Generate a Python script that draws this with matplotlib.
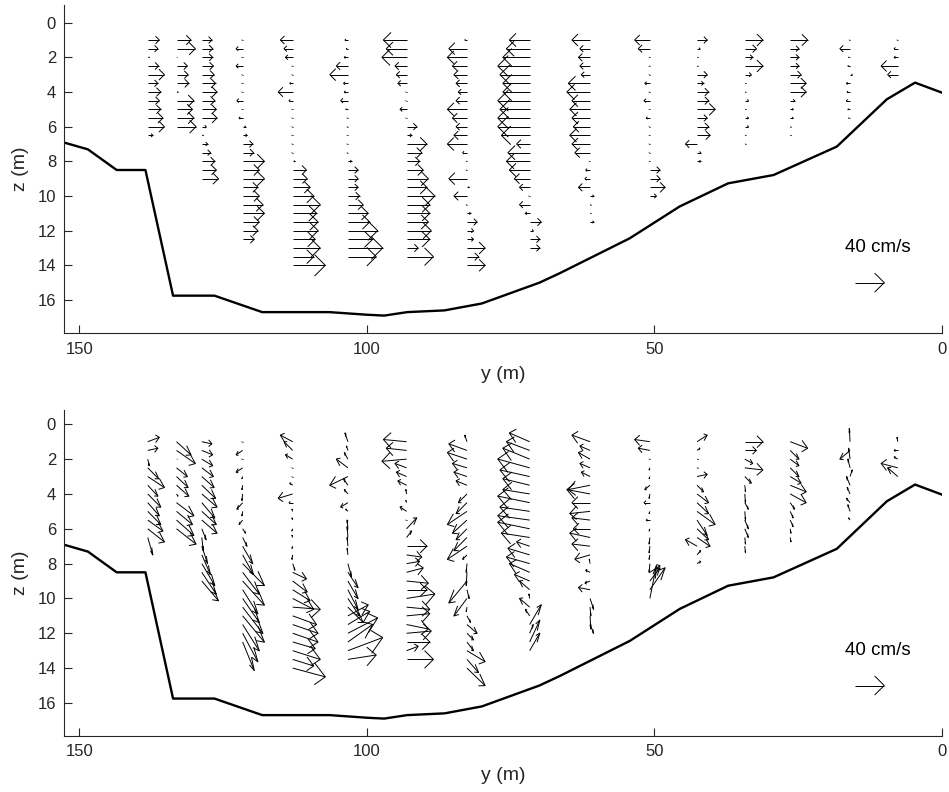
import numpy as np
import matplotlib.pyplot as plt
from matplotlib.collections import LineCollection

plt.rcParams['font.family'] = ['Liberation Sans', 'DejaVu Sans']

# channel bed (cross-section)
bed_y = [152.6, 148.5, 143.5, 138.5, 133.7, 126.5, 118.2, 112.6, 106.5, 100.0,
         97.0, 93.0, 86.5, 80.0, 75.0, 70.0, 66.5, 60.7, 54.3, 45.6, 37.2,
         29.3, 18.3, 9.6, 4.7, 0.0]
bed_z = [6.92, 7.31, 8.5, 8.5, 15.75, 15.75, 16.7, 16.7, 16.7, 16.85,
         16.9, 16.7, 16.6, 16.2, 15.6, 15.0, 14.46, 13.5, 12.44, 10.6, 9.27,
         8.79, 7.15, 4.42, 3.46, 4.04]

# ADCP stations across the channel (m), bins start at 1 m, 0.5 m apart
station_y = [138.1, 133.1, 128.7, 121.6, 112.9, 103.3, 93.1, 82.6,
             71.7, 61.2, 50.8, 42.6, 34.3, 26.4, 16.0, 7.7]
first_bin = 1.0
bin_size = 0.5

# horizontal velocity (cm/s, positive towards y = 0), top to bottom
v01 = [16, 14, 2, 15, 23, 14, 18, 16, 18, 21, 23, 7]
v02 = [20, 26, 1, 15, 16, 17, 2, 24, 22, 24, 27]
v03 = [14, 15, 15, 16, 17, 19, 21, 18, 20, 21, 6, 2, 8, 12, 18, 20, 23]
v04 = [-1, -9, -1, -9, -1, -1, -1, -8, -1, -5, 4, 6, 14, 15, 30, 23, 30,
       21, 23, 28, 30, 23, 21, 16]
v05 = [-17, -12, -10, -1, -1, -4, -20, -5, -1, -1, -1, -1, -1, -1, 3, 19,
       20, 24, 29, 38, 33, 35, 35, 31, 38, 29, 45]
v06 = [-4, -2, -5, -16, -25, -6, -5, -10, -3, -1, -1, -1, -1, -1, 5, 14,
       14, 14, 16, 21, 28, 30, 41, 34, 48, 39]
v07 = [-32, -28, -34, -16, -14, -12, -1, -1, -9, -1, 14, 7, 28, 21, 18,
       23, 30, 28, 39, 32, 32, 30, 34, 32, 16, 37]
v08 = [-3, -25, -27, -20, -18, -15, -12, -15, -27, -20, -15, -18, -27, -6,
       -1, -1, -25, 3, -18, -1, 5, 14, 9, 9, 25, 16, 25]
v09 = [-28, -32, -37, -44, -41, -37, -37, -44, -41, -44, -44, -39, -18,
       -30, -32, -28, -21, -14, -1, -14, -6, 16, 5, 14, 14]
v10 = [-25, -14, -16, -14, -12, -30, -32, -25, -28, -25, -23, -28, -25,
       -21, -1, -6, -7, -16, 5, 1, 1, 5]
v11 = [-21, -16, -1, -1, -1, -7, -1, -8, -1, -5, -1, -1, -1, -1, -1, 14,
       14, 21, 9]
v12 = [14, 4, 1, 1, 14, 9, 16, 16, 25, 14, 16, 18, -16, 5, 5]
v13 = [25, 16, 11, 25, 9, 1, 1, 5, 1, 5, 5, 1, 1]
v14 = [24, 12, 12, 12, 15, 22, 22, 6, 4, 4, 1, 1]
v15 = [-1, -14, -2, -3, 3, -5, -4, -5, -3, -2]
v16 = [-1, -5, -5, -23, -14]

# vertical velocity (cm/s, positive upward), same bins
w01 = [2, 1, -3, -5, -5, -5, -6, -6, -6, -5, -6, -8]
w02 = [-6, -6, 0, -4, -5, -5, -1, -6, -6, -7, -7]
w03 = [-1, -2, -3, -4, -5, -6, -6, -7, -6, -6, -5, -6, -8, -9, -10, -10,
       -9]
w04 = [0, -2, 0, -2, -1, -2, -3, -3, -2, -2, -2, -4, -8, -9, -10, -10,
       -11, -11, -11, -12, -12, -12, -13, -13]
w05 = [3, 4, 2, 0, 0, 1, -2, 0, 1, 1, -1, 1, -1, -2, -3, -3, -5, -5, -5,
       -1, -4, -4, -4, -3, -4, -3, -4]
w06 = [4, 2, 3, 4, -4, 3, 2, -2, 1, -1, 4, 5, 4, 3, -6, -7, -8, -9, -8,
       -7, 5, 6, 7, 8, 6, 2]
w07 = [1, 1, -1, 2, 2, 2, 2, 1, 2, 0, 5, 3, 0, -1, 1, 2, -1, 0, 2, -1, 1,
       -2, 1, 0, 2, 0]
w08 = [3, 3, 3, 2, 2, 2, -4, -5, -6, -6, -5, -6, -6, -2, -4, -6, -10, -4,
       -8, -2, -3, -4, -3, -4, -5, -6, -8]
w09 = [4, 4, 5, 4, 3, 3, 2, 3, 2, 2, 3, 2, 2, 3, 3, 4, 3, 4, 2, 4, 3, 9,
       4, 10, 8]
w10 = [3, 2, 3, 2, 2, -2, 2, 0, -1, 1, 0, 2, 1, -2, 2, 1, -1, 1, -5, -4,
       -6, -4]
w11 = [1, 1, 0, -1, -1, -2, -2, 0, -1, 0, -1, -3, -3, -2, -4, 3, 6, 10,
       15]
w12 = [3, 1, 0, 0, 1, -3, -4, -5, -6, -7, -5, -4, 3, 2, 1]
w13 = [0, 0, -2, -1, -3, -3, -4, -3, -4, -4, -4, -3, -3]
w14 = [-3, -4, -3, -4, -3, -3, -4, -3, -3, -3, -2, -2]
w15 = [6, -4, 5, 4, 3, 4, 3, 2, 3, 1]
w16 = [2, 0, 1, 2, 4]

v_all = [v01, v02, v03, v04, v05, v06, v07, v08,
         v09, v10, v11, v12, v13, v14, v15, v16]
w_all = [w01, w02, w03, w04, w05, w06, w07, w08,
         w09, w10, w11, w12, w13, w14, w15, w16]

ref_speed = 40          # cm/s
ref_y, ref_z = 15.1, 15.0
quiver_scale = 5.04 / ref_speed   # plot metres per cm/s

ink = '#262626'


def arrow_segments(x, z, dx, dz, alpha=0.33, beta=0.33):
    """Shaft and open head of one arrow, drawn the way MATLAB's quiver does."""
    tx, tz = x + dx, z + dz
    h1 = (tx - alpha * (dx + beta * dz), tz - alpha * (dz - beta * dx))
    h2 = (tx - alpha * (dx - beta * dz), tz - alpha * (dz + beta * dx))
    return [[(x, z), (tx, tz)], [h1, (tx, tz), h2]]


def draw_panel(ax, use_w, ylim):
    segs = []
    for y0, v, w in zip(station_y, v_all, w_all):
        z = first_bin + bin_size * np.arange(len(v))
        ww = np.array(w) if use_w else np.zeros(len(v))
        for zi, vi, wi in zip(z, v, ww):
            segs += arrow_segments(y0, zi, -quiver_scale * vi, -quiver_scale * wi)
    ax.add_collection(LineCollection(segs, colors='k', linewidths=0.7))

    ax.plot(bed_y, bed_z, color='k', linewidth=1.7)

    ax.add_collection(LineCollection(
        arrow_segments(ref_y, ref_z, -quiver_scale * ref_speed, 0),
        colors='k', linewidths=0.7))
    ax.text(ref_y - 4.0, ref_z - 2.0, f'{ref_speed} cm/s', ha='center',
            va='center', fontsize=13.5, color='k')

    ax.set_xlim(152.6, 0)
    ax.set_ylim(*ylim)
    ax.set_xticks([150, 100, 50, 0])
    ax.set_yticks(np.arange(0, 17, 2))
    ax.tick_params(direction='in', length=5.5, width=0.8, colors=ink,
                   labelsize=12, pad=6)
    for side in ['top', 'right']:
        ax.spines[side].set_visible(False)
    for side in ['left', 'bottom']:
        ax.spines[side].set_color(ink)
        ax.spines[side].set_linewidth(0.8)

    ax.set_xlabel('y (m)', fontsize=14, color=ink, va='center')
    ax.set_ylabel('z (m)', fontsize=14, color=ink, va='center')


def main():
    fig = plt.figure(figsize=(9.49, 7.92), dpi=100)
    ax_top = fig.add_axes([0.0678, 0.5792, 0.9249, 0.4145])
    ax_bot = fig.add_axes([0.0678, 0.0707, 0.9249, 0.4116])

    draw_panel(ax_top, False, (17.92, -1.02))
    draw_panel(ax_bot, True, (17.9, -0.82))

    ax_top.xaxis.set_label_coords(0.5, -0.127)
    ax_top.yaxis.set_label_coords(-0.0505, 0.5)
    ax_bot.xaxis.set_label_coords(0.5, -0.12)
    ax_bot.yaxis.set_label_coords(-0.0505, 0.5)

    fig.savefig('out.png', dpi=100)


if __name__ == '__main__':
    main()
